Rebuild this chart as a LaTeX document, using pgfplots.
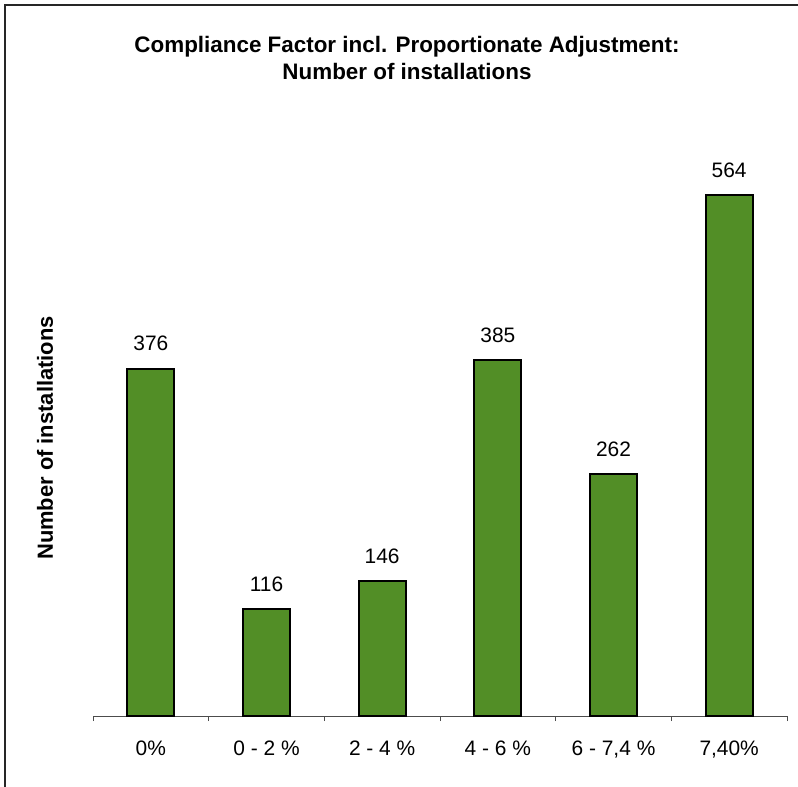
\documentclass[border=0pt]{standalone}
\usepackage{pgfplots}
\pgfplotsset{compat=1.18}
\usepackage{fontspec}
\setmainfont{Liberation Sans}
\definecolor{bargreen}{RGB}{82,142,38}
\begin{document}
\begin{tikzpicture}[x=1bp,y=1bp]
\path[use as bounding box] (0,0) rectangle (798,-787);
\draw[line width=1.6bp,black!85] (5,-787) -- (5,-5) -- (798,-5);
\node[font=\fontsize{22.5}{27}\selectfont\bfseries, align=center] at (407,-58)
  {Compliance Factor incl. Proportionate Adjustment:\\Number of installations};
\node[font=\fontsize{22}{26}\selectfont\bfseries, rotate=90] at (45,-438) {Number of installations};
\begin{axis}[
  anchor=south west, at={(93bp,-716bp)},
  scale only axis, width=694bp, height=554.3bp,
  xmin=-0.5, xmax=5.5, ymin=0, ymax=600,
  axis x line*=bottom, axis y line=none,
  axis line style={line width=1bp, black!70, -},
  clip=false,
  xtick={0,1,2,3,4,5},
  xticklabels={{0\%},{0 - 2 \%},{2 - 4 \%},{4 - 6 \%},{6 - 7,4 \%},{7,40\%}},
  major tick length=0pt,
  tick style={line width=1bp, black!70},
  extra x ticks={-0.5,0.5,1.5,2.5,3.5,4.5,5.5},
  extra x tick labels={},
  extra x tick style={tick align=outside, major tick length=5bp},
  xticklabel style={font=\fontsize{21}{25}\selectfont, anchor=base, yshift=-39bp},
  /pgf/number format/assume math mode=true,
  ybar, bar width=0.406,
  nodes near coords,
  every node near coord/.append style={font=\fontsize{21}{25}\selectfont, anchor=center, yshift=25bp},
]
\addplot[fill=bargreen, draw=black, line width=2bp] coordinates {(0,376) (1,116) (2,146) (3,385) (4,262) (5,564)};
\end{axis}
\end{tikzpicture}
\end{document}
